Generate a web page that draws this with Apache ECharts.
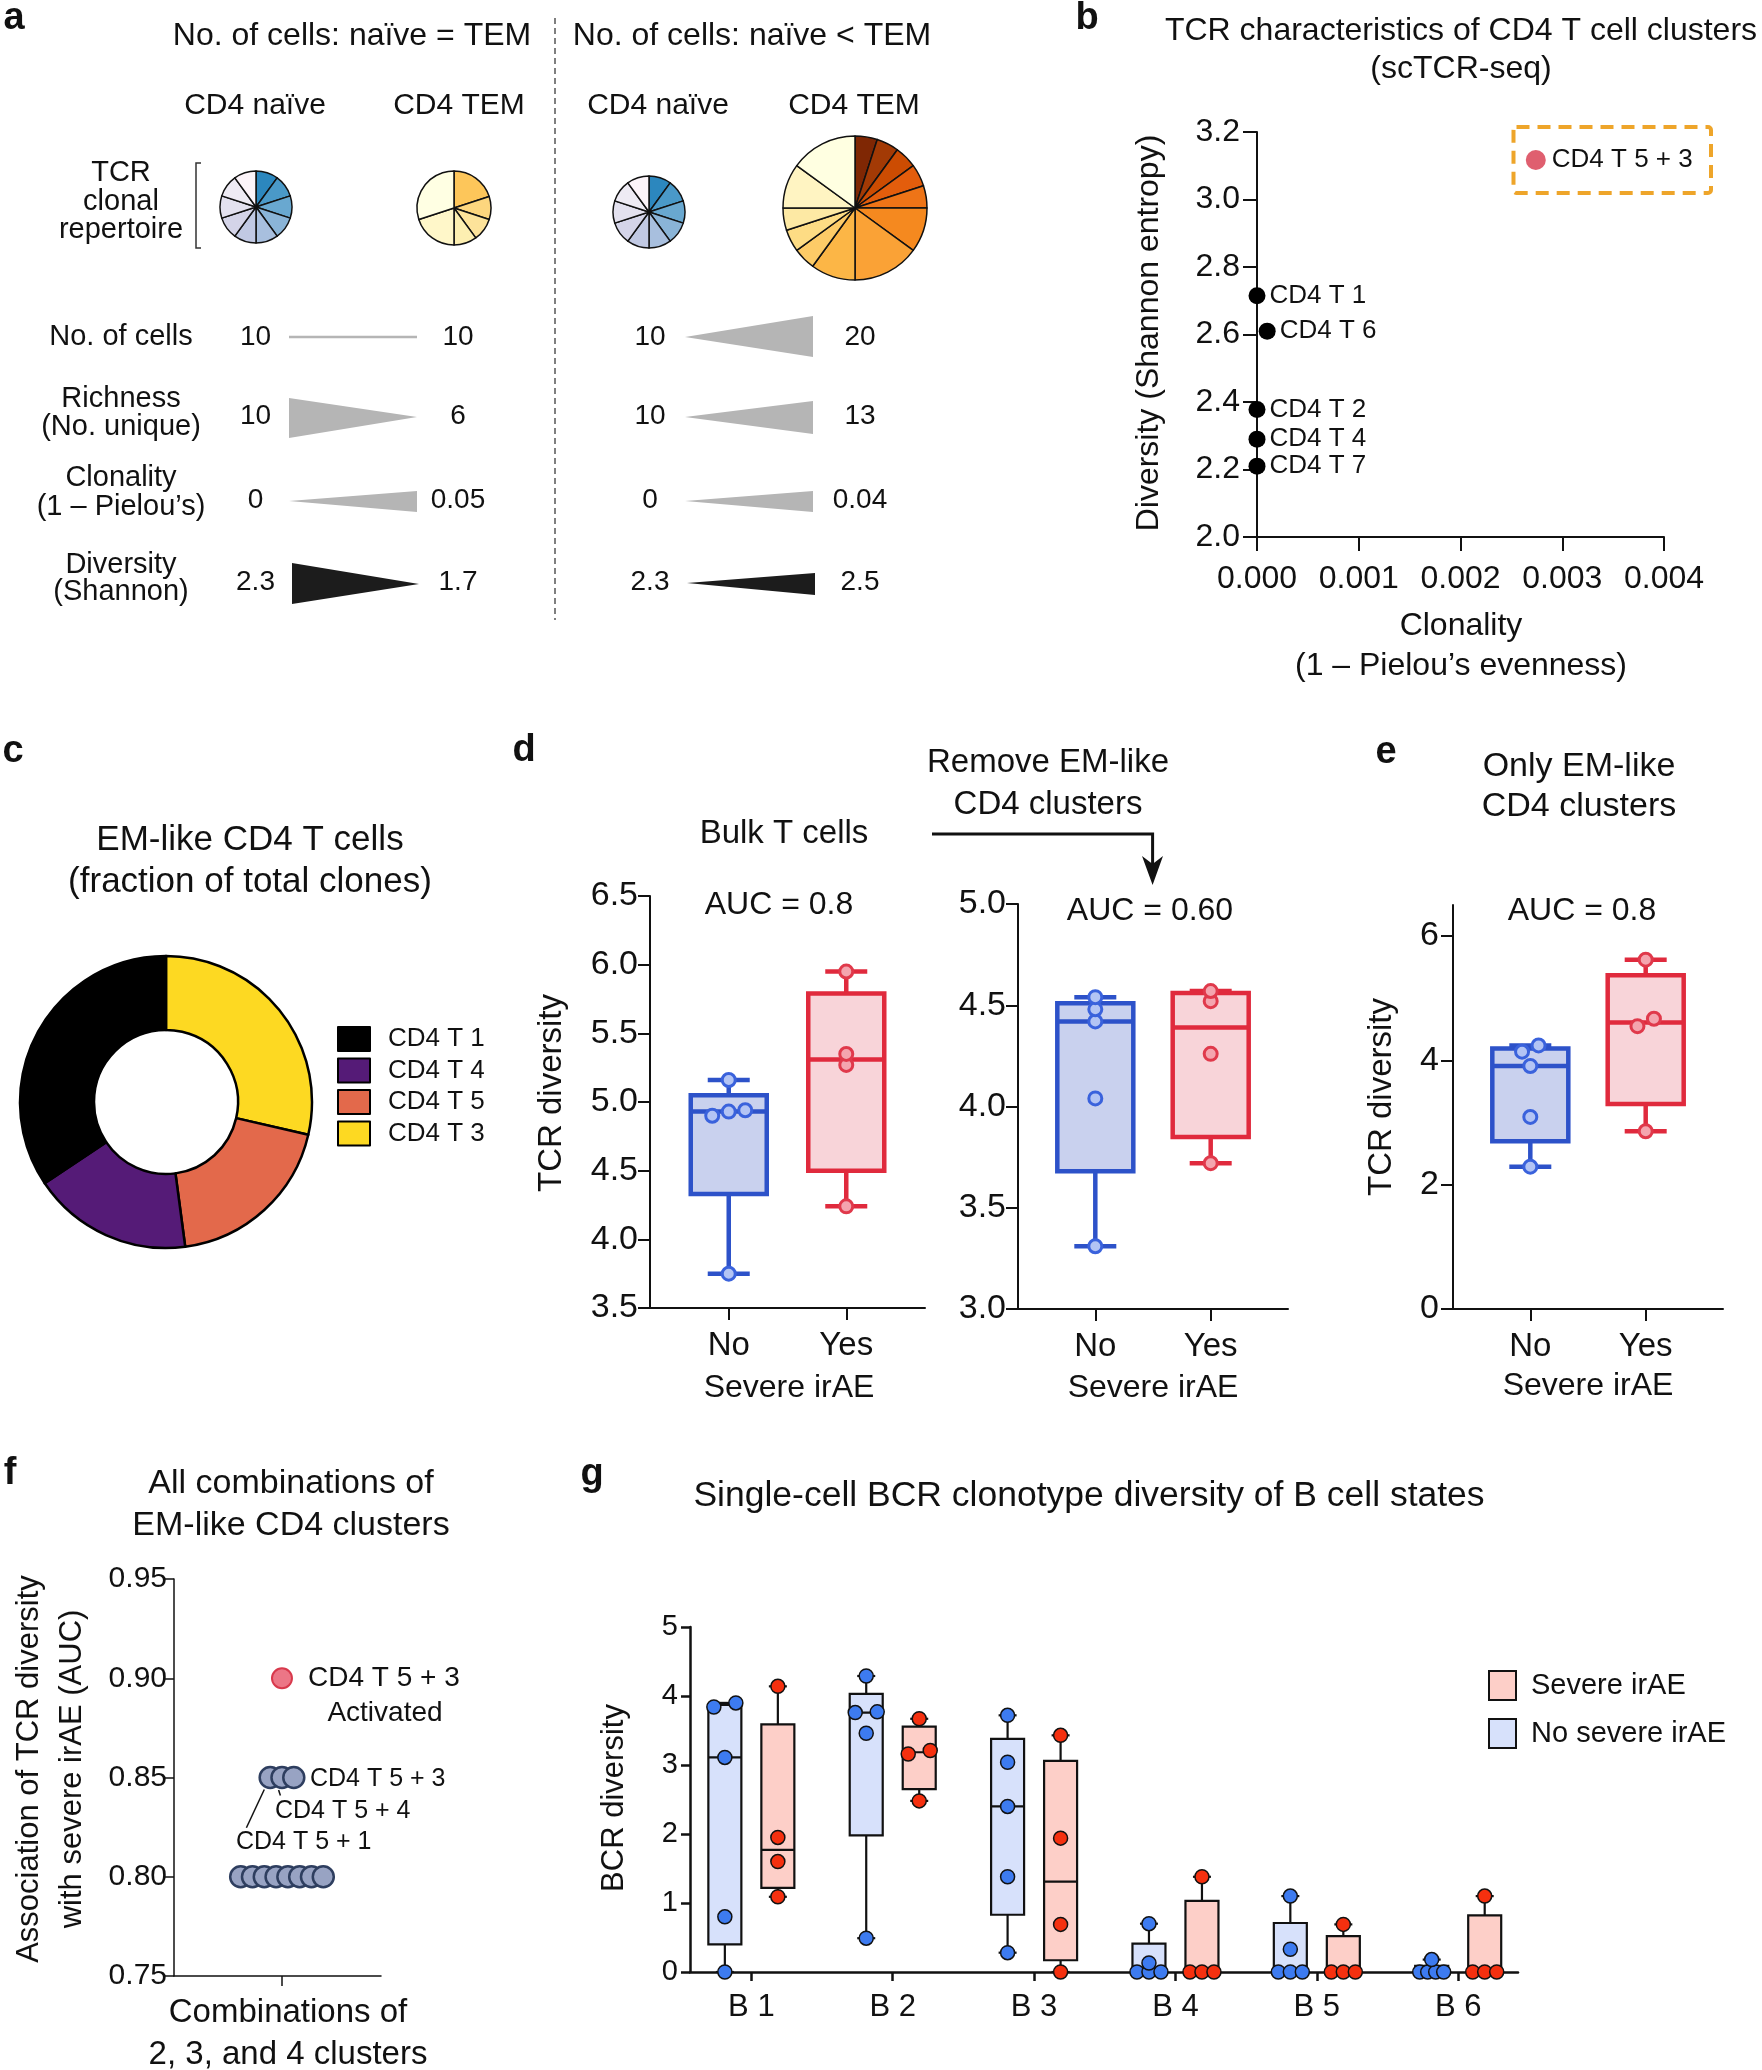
<!DOCTYPE html>
<html><head><meta charset="utf-8">
<script src="https://cdn.jsdelivr.net/npm/echarts@6/dist/echarts.min.js"></script>
<style>html,body{margin:0;padding:0;background:#fff}#c{width:1762px;height:2070px}</style>
</head><body><div id="c"></div>
<script>
// ---------------- DATA ----------------
// Panel a: clone sizes (cells per unique clone) in each schematic repertoire
const aPieNaive = [1,1,1,1,1,1,1,1,1,1];
const aPieTemEq = [2,1,1,1,2,3];
const aPieTemGt = [1,1,1,1,1,2,3,2,1,1,1,2,3];
const aRowLabels = [['No. of cells'],['Richness','(No. unique)'],['Clonality','(1 – Pielou’s)'],['Diversity','(Shannon)']];
const aEqNaive = ['10','10','0','2.3'];
const aEqTem   = ['10','6','0.05','1.7'];
const aLtNaive = ['10','10','0','2.3'];
const aLtTem   = ['20','13','0.04','2.5'];

// Panel b
const bNames = ['CD4 T 1','CD4 T 6','CD4 T 2','CD4 T 4','CD4 T 7'];
const bClonality = [0, 0.0001, 0, 0, 0];
const bDiversity = [2.715, 2.61, 2.378, 2.29, 2.21];
const bHiName = 'CD4 T 5 + 3';
const bHiClonality = 0.00274;
const bHiDiversity = 3.117;

// Panel c
const cNames = ['CD4 T 3','CD4 T 5','CD4 T 4','CD4 T 1'];
const cValues = [28.6, 19.3, 17.7, 34.4];
const cLegend = ['CD4 T 1','CD4 T 4','CD4 T 5','CD4 T 3'];

// Panels d, e : box stats [min, Q1, median, Q3, max] and points, for No / Yes
const irCats = ['No','Yes'];
const dBulkBox = [[3.75,4.33,4.93,5.05,5.16],[4.24,4.50,5.31,5.79,5.95]];
const dBulkPts = [[3.75,4.94,4.90,4.93,5.16],[4.24,5.27,5.35,5.95]];
const dRemBox  = [[3.31,3.68,4.42,4.51,4.54],[3.72,3.85,4.39,4.56,4.57]];
const dRemPts  = [[3.31,4.04,4.42,4.48,4.54],[3.72,4.26,4.52,4.57]];
const eBox     = [[2.29,2.70,3.91,4.19,4.24],[2.86,3.30,4.61,5.37,5.62]];
const ePts     = [[2.29,3.09,3.91,4.24,4.14],[2.86,4.67,4.55,5.62]];
const aucBulk = '0.8', aucRem = '0.60', aucEm = '0.8';

// Panel f
const fActivated = [0.90];
const fCombos = [0.85,0.85,0.85,0.80,0.80,0.80,0.80,0.80,0.80,0.80,0.80];

// Panel g
const gCats = ['B 1','B 2','B 3','B 4','B 5','B 6'];
const gNoBox = [[0,0.40,3.11,3.87,3.90],[0.49,1.98,3.76,4.03,4.29],[0.28,0.83,2.40,3.38,3.72],[0,0,0,0.41,0.70],[0,0,0,0.71,1.10],[0,0,0,0.09,0.18]];
const gYesBox = [[1.09,1.22,1.77,3.59,4.14],[2.48,2.65,3.185,3.555,3.67],[0,0.17,1.31,3.06,3.43],[0,0,0,1.03,1.38],[0,0,0,0.52,0.69],[0,0,0,0.82,1.10]];
const gNoPts = [[0,0.80,3.11,3.90,3.84],[0.49,3.46,3.76,3.77,4.29],[0.28,1.38,2.40,3.04,3.72],[0,0,0,0.13,0.70],[0,0,0,0.33,1.10],[0,0,0,0,0.18]];
const gYesPts = [[1.09,1.60,1.95,4.14],[2.48,3.21,3.16,3.67],[0,0.69,1.94,3.43],[0,0,0,1.38],[0,0,0,0.69],[0,0,0,1.10]];

// ---------------- STYLE ----------------
const FONT = '"Liberation Sans", Arial, Helvetica, sans-serif';
const INK = '#111111';
const naiveColors = ['#2c87be','#4a99c8','#69a8d0','#8ab4d7','#a8bfde','#c1c9e3','#d4d4e8','#e3e1ef','#eeebf4','#fcf4f9'];
const temEqColors = ['#fdc65a','#fdd67e','#fde39a','#fdefb1','#fff7c9','#ffffe3'];
const temGtColors = ['#7f2704','#a33a05','#cc4c02','#e35d0c','#ee7417','#f5891f','#faa236','#fcb646','#fdcb67','#fddc84','#fde9a4','#fff4c2','#ffffe1'];
const cColors = {'CD4 T 1':'#000000','CD4 T 4':'#551b77','CD4 T 5':'#e3694b','CD4 T 3':'#fdd922'};
const blueStroke = '#2d52c9', blueFill = '#c9d1ee', bluePt = '#b3c4f4', bluePtB = '#3a62dc';
const redStroke = '#e02a3d', redFill = '#f8d4d9', redPt = '#f4a5af', redPtB = '#e0394b';

// ---------------- HELPERS ----------------
function T(x, y, text, size, o) {
  o = o || {};
  return {type:'text', x:x, y:y, rotation:o.rot||0, z:50, silent:true,
    style:{text:text, fontSize:size, fontFamily:FONT, fontWeight:o.bold?'bold':'normal', fill:o.color||INK,
      align:o.align||'center', verticalAlign:o.va||'middle', textAlign:o.align||'center', textVerticalAlign:o.va||'middle'}};
}
function L(x1,y1,x2,y2,o){ o=o||{}; return {type:'line', silent:true, z:40, shape:{x1,y1,x2,y2}, style:{stroke:o.color||INK, lineWidth:o.lw||2, lineDash:o.dash||null}}; }
function P(pts, fill){ return {type:'polygon', silent:true, z:40, shape:{points:pts}, style:{fill:fill}}; }

function swarm(values, pxPerUnit, thresh, spacingFn) {
  const idx = values.map((v,i)=>i).sort((a,b)=>values[a]-values[b]);
  const off = new Array(values.length).fill(0);
  let group = [idx[0]];
  const flush = () => { const k = group.length; const s = spacingFn(k); group.forEach((id,j)=>{ off[id] = (j-(k-1)/2)*s; }); };
  for (let j=1;j<idx.length;j++){
    if ((values[idx[j]] - values[group[group.length-1]])*pxPerUnit < thresh) group.push(idx[j]);
    else { flush(); group=[idx[j]]; }
  }
  flush();
  return off;
}

function boxSeries(name, xi, yi, rows, xs, cfg) {
  return {
    type:'custom', name:name, xAxisIndex:xi, yAxisIndex:yi, z:5, clip:false, silent:true,
    itemStyle:{color:cfg.fill, borderColor:cfg.stroke, borderWidth:2},
    encode:{x:0, y:[1,2,3,4,5]},
    data: rows.map((r,i)=>[xs[i]].concat(r)),
    renderItem: function(params, api) {
      const x = api.value(0);
      const c = v => api.coord([x, v]);
      const pMin=c(api.value(1)), pQ1=c(api.value(2)), pMed=c(api.value(3)), pQ3=c(api.value(4)), pMax=c(api.value(5));
      const cx = pMin[0] + cfg.offset, hw = cfg.boxW/2, cw = cfg.capW/2;
      const ls = {stroke:cfg.stroke, lineWidth:cfg.lw};
      const ch = [
        {type:'line', shape:{x1:cx,y1:pQ3[1],x2:cx,y2:pMax[1]}, style:ls},
        {type:'line', shape:{x1:cx,y1:pMin[1],x2:cx,y2:pQ1[1]}, style:ls},
        {type:'line', shape:{x1:cx-cw,y1:pMax[1],x2:cx+cw,y2:pMax[1]}, style:ls},
        {type:'line', shape:{x1:cx-cw,y1:pMin[1],x2:cx+cw,y2:pMin[1]}, style:ls},
        {type:'rect', shape:{x:cx-hw, y:pQ3[1], width:cfg.boxW, height:Math.max(0,pQ1[1]-pQ3[1])}, style:{fill:cfg.fill, stroke:cfg.stroke, lineWidth:cfg.lw}},
        {type:'line', shape:{x1:cx-hw,y1:pMed[1],x2:cx+hw,y2:pMed[1]}, style:ls}
      ];
      return {type:'group', children:ch};
    }
  };
}

function pointSeries(xi, yi, groups, xs, pxPerUnit, thresh, spacingFn, offset, st) {
  const data = [];
  groups.forEach((vals, gi) => {
    const off = swarm(vals, pxPerUnit, thresh, spacingFn);
    vals.forEach((v, i) => data.push({value:[xs[gi], v], symbolOffset:[off[i] + offset, 0]}));
  });
  return {type:'scatter', xAxisIndex:xi, yAxisIndex:yi, z:10, silent:true, symbol:'circle', symbolSize:st.size,
    itemStyle:{color:st.fill, borderColor:st.border, borderWidth:st.bw, opacity:1}, data:data};
}

function xAx(gi, o) {
  return {type:'value', gridIndex:gi, min:o.min, max:o.max, interval:o.interval,
    axisLine:{show:true, onZero:false, lineStyle:{color:INK, width:o.lw||2}},
    axisTick:{show:true, length:o.tl||12, lineStyle:{color:INK, width:o.lw||2}, customValues:o.custom},
    axisLabel:{show:o.label!==false, color:INK, fontSize:o.fs||30, fontFamily:FONT, margin:o.margin||10, formatter:o.fmt, customValues:o.custom, showMinLabel:true, showMaxLabel:true},
    splitLine:{show:false}};
}
const yAx = xAx;

const yesNoFmt = v => (Math.abs(v-1)<1e-6 ? irCats[0] : (Math.abs(v-2)<1e-6 ? irCats[1] : ''));

// ---------------- GRAPHICS (annotations / schematic) ----------------
const G = [];
// panel letters
G.push(T(14, 19, 'a', 38, {bold:true}));
G.push(T(1087, 19, 'b', 38, {bold:true}));
G.push(T(13, 752, 'c', 38, {bold:true}));
G.push(T(524, 751, 'd', 38, {bold:true}));
G.push(T(1386, 753, 'e', 38, {bold:true}));
G.push(T(10, 1474, 'f', 38, {bold:true}));
G.push(T(592, 1475, 'g', 38, {bold:true}));

// panel a
G.push(T(352, 36, 'No. of cells: naïve = TEM', 32));
G.push(T(752, 36, 'No. of cells: naïve < TEM', 32));
G.push(T(255, 106, 'CD4 naïve', 30)); G.push(T(459, 106, 'CD4 TEM', 30));
G.push(T(658, 106, 'CD4 naïve', 30)); G.push(T(854, 106, 'CD4 TEM', 30));
G.push(T(121, 173, 'TCR', 29)); G.push(T(121, 202, 'clonal', 29)); G.push(T(121, 230, 'repertoire', 29));
G.push({type:'polyline', silent:true, shape:{points:[[201,163],[196,163],[196,248],[201,248]]}, style:{stroke:'#333', lineWidth:1.5, fill:null}});
G.push(L(555, 18, 555, 620, {color:'#555', lw:1.5, dash:[6,4]}));
const rowY = [[337],[399,427],[478,507],[565,592]];
const valY = [337, 416, 500, 582];
aRowLabels.forEach((lines, i) => lines.forEach((t, j) => G.push(T(121, rowY[i][j], t, 29))));
valY.forEach((y, i) => {
  G.push(T(255.5, y, aEqNaive[i], 28)); G.push(T(458, y, aEqTem[i], 28));
  G.push(T(650, y, aLtNaive[i], 28)); G.push(T(860, y, aLtTem[i], 28));
});
const GRAY = '#b5b5b5', DARK = '#1c1c1c';
G.push(L(289, 337, 417, 337, {color:GRAY, lw:2.5}));
G.push(P([[289,398],[289,438],[417,417]], GRAY));
G.push(P([[289,501],[417,491],[417,512]], GRAY));
G.push(P([[292,563],[292,604],[419,584]], DARK));
G.push(P([[685,337],[813,316],[813,357]], GRAY));
G.push(P([[685,417],[813,401],[813,434]], GRAY));
G.push(P([[685,501],[813,491],[813,512]], GRAY));
G.push(P([[687,583],[815,573],[815,595]], DARK));

// panel b
G.push(T(1461, 31, 'TCR characteristics of CD4 T cell clusters', 32));
G.push(T(1461, 69, '(scTCR-seq)', 32));
G.push(T(1149, 333, 'Diversity (Shannon entropy)', 32, {rot:Math.PI/2}));
G.push(T(1461, 626, 'Clonality', 32));
G.push(T(1461, 666, '(1 – Pielou’s evenness)', 32));
G.push({type:'rect', silent:true, z:40, shape:{x:1513.5, y:127, width:197.5, height:66, r:3}, style:{fill:null, stroke:'#eea52a', lineWidth:4, lineDash:[13,8]}});

// panel c
G.push(T(250, 840, 'EM-like CD4 T cells', 35));
G.push(T(250, 882, '(fraction of total clones)', 35));

// panel d
G.push(T(784, 834, 'Bulk T cells', 33));
G.push(T(1048, 763, 'Remove EM-like', 33));
G.push(T(1048, 805, 'CD4 clusters', 33));
G.push({type:'polyline', silent:true, shape:{points:[[932,834],[1152.6,834],[1152.6,866]]}, style:{stroke:INK, lineWidth:3, fill:null}});
G.push(P([[1142,856],[1152.6,885],[1163,856],[1152.6,864]], INK));
G.push(T(779, 905, 'AUC = ' + aucBulk, 32));
G.push(T(1150, 911, 'AUC = ' + aucRem, 32));
G.push(T(552, 1093, 'TCR diversity', 33, {rot:Math.PI/2}));
G.push(T(789, 1388, 'Severe irAE', 32));
G.push(T(1153, 1388, 'Severe irAE', 32));

// panel e
G.push(T(1579, 767, 'Only EM-like', 34));
G.push(T(1579, 807, 'CD4 clusters', 34));
G.push(T(1582, 911, 'AUC = ' + aucEm, 32));
G.push(T(1382, 1097, 'TCR diversity', 33, {rot:Math.PI/2}));
G.push(T(1588, 1386, 'Severe irAE', 32));

// panel f
G.push(T(291, 1484, 'All combinations of', 34));
G.push(T(291, 1526, 'EM-like CD4 clusters', 34));
G.push(T(29, 1769, 'Association of TCR diversity', 31, {rot:Math.PI/2}));
G.push(T(72, 1769, 'with severe irAE (AUC)', 31, {rot:Math.PI/2}));
G.push(T(288, 2013, 'Combinations of', 33));
G.push(T(288, 2055, '2, 3, and 4 clusters', 33));
G.push(T(308, 1678, 'CD4 T 5 + 3', 28, {align:'left'}));
G.push(T(385, 1713, 'Activated', 28));
G.push(T(310, 1779, 'CD4 T 5 + 3', 25, {align:'left'}));
G.push(T(275, 1811, 'CD4 T 5 + 4', 25, {align:'left'}));
G.push(T(236, 1842, 'CD4 T 5 + 1', 25, {align:'left'}));
G.push(L(264.3, 1789.5, 246.4, 1827.7, {lw:1.5}));
G.push(L(278.6, 1790, 280.4, 1795.6, {lw:1.5}));

// panel g
G.push(T(1089, 1496, 'Single-cell BCR clonotype diversity of B cell states', 35.5));
G.push(T(614, 1798, 'BCR diversity', 31, {rot:Math.PI/2}));

// ---------------- SERIES ----------------
const series = [];
function aPie(center, r, vals, colors, tag) {
  return {type:'pie', center:center, radius:r, startAngle:90, clockwise:true, silent:true, z:3,
    label:{show:false}, labelLine:{show:false}, itemStyle:{borderColor:'#111', borderWidth:1.5},
    data: vals.map((v,i)=>({name:tag+i, value:v, itemStyle:{color:colors[i]}}))};
}
series.push(aPie([256,207], 36, aPieNaive, naiveColors, 'n1_'));
series.push(aPie([454,208], 37, aPieTemEq, temEqColors, 't1_'));
series.push(aPie([649,212], 36, aPieNaive, naiveColors, 'n2_'));
series.push(aPie([855,208], 72, aPieTemGt, temGtColors, 't2_'));

// panel c donut
series.push({type:'pie', center:[166,1102], radius:[72,146], startAngle:90, clockwise:true, silent:true,
  label:{show:false}, labelLine:{show:false}, itemStyle:{borderColor:'#000', borderWidth:2.5},
  data: cNames.map((n,i)=>({name:n, value:cValues[i], itemStyle:{color:cColors[n]}}))});

// panel b scatter
series.push({type:'scatter', xAxisIndex:0, yAxisIndex:0, symbolSize:17, silent:true, z:10,
  itemStyle:{color:'#000', opacity:1},
  label:{show:true, position:'right', distance:4, formatter:'{b}', fontSize:26, fontFamily:FONT, color:INK, opacity:1},
  data: bNames.map((n,i)=>({name:n, value:[bClonality[i], bDiversity[i]]}))});
series.push({type:'scatter', xAxisIndex:0, yAxisIndex:0, symbolSize:20, silent:true, z:10,
  itemStyle:{color:'#df5f6f', opacity:1},
  label:{show:true, position:'right', distance:6, formatter:'{b}', fontSize:26, fontFamily:FONT, color:INK, opacity:1},
  data:[{name:bHiName, value:[bHiClonality, bHiDiversity]}]});

// panels d / e boxes
const dCfgB = {offset:0, boxW:76, capW:42, lw:4.5, stroke:blueStroke, fill:blueFill};
const dCfgR = {offset:0, boxW:76, capW:42, lw:4.5, stroke:redStroke, fill:redFill};
const dPanels = [[1, dBulkBox, dBulkPts, 412/3], [2, dRemBox, dRemPts, 405/2], [3, eBox, ePts, 404/6.5]];
const ptB = {size:13, fill:bluePt, border:bluePtB, bw:3};
const ptR = {size:13, fill:redPt, border:redPtB, bw:3};
dPanels.forEach(([ax, box, pts, ppu]) => {
  series.push(boxSeries('d'+ax+'No', ax, ax, [box[0]], [1], dCfgB));
  series.push(boxSeries('d'+ax+'Yes', ax, ax, [box[1]], [2], dCfgR));
  series.push(pointSeries(ax, ax, [pts[0]], [1], ppu, 10, k=>16.5, 0, ptB));
  series.push(pointSeries(ax, ax, [pts[1]], [2], ppu, 10, k=>16.5, 0, ptR));
});

// panel f
series.push(pointSeries(4, 4, [fCombos], [1], 397/0.2, 5, k=>11.8, 0, {size:21, fill:'#98a3c3', border:'#2e3e5f', bw:2.5}));
series.push(pointSeries(4, 4, [fActivated], [1], 397/0.2, 5, k=>11.8, 0, {size:20, fill:'#ec7686', border:'#d8394c', bw:2}));

// panel g
const gX = gCats.map((c,i)=>i+1);
const gCfgNo = {offset:-26.5, boxW:33, capW:18, lw:2.2, stroke:'#111', fill:'#d7e1fb'};
const gCfgYes = {offset:26.5, boxW:33, capW:18, lw:2.2, stroke:'#111', fill:'#fdcfc8'};
series.push(boxSeries('Severe irAE', 5, 5, gYesBox, gX, gCfgYes));
series.push(boxSeries('No severe irAE', 5, 5, gNoBox, gX, gCfgNo));
const gSp = k => Math.min(22, 24/(k-1||1));
series.push(pointSeries(5, 5, gNoPts, gX, 345/5, 8, gSp, -26.5, {size:14, fill:'#3d7bf0', border:'#111', bw:1.5}));
series.push(pointSeries(5, 5, gYesPts, gX, 345/5, 8, gSp, 26.5, {size:14, fill:'#f5300f', border:'#111', bw:1.5}));

// ---------------- OPTION ----------------
const option = {
  animation:false,
  backgroundColor:'#ffffff',
  textStyle:{fontFamily:FONT},
  grid:[
    {left:1257, top:132, width:407, height:405},
    {left:650, top:896, width:275, height:412},
    {left:1018, top:904, width:270, height:405},
    {left:1453, top:905, width:270, height:404},
    {left:174, top:1579, width:207, height:397},
    {left:690, top:1627, width:828, height:345}
  ],
  xAxis:[
    xAx(0, {min:0, max:0.004, interval:0.001, tl:14, fs:32, margin:26, fmt:v=>v.toFixed(3)}),
    xAx(1, {min:0.33, max:2.67, custom:[1,2], tl:12, fs:33, margin:21, fmt:yesNoFmt}),
    xAx(2, {min:0.33, max:2.67, custom:[1,2], tl:12, fs:33, margin:21, fmt:yesNoFmt}),
    xAx(3, {min:0.33, max:2.67, custom:[1,2], tl:12, fs:33, margin:21, fmt:yesNoFmt}),
    xAx(4, {min:0, max:1.917, custom:[1], tl:10, label:false, lw:1.5}),
    xAx(5, {min:0.566, max:6.423, custom:gX, tl:9, fs:31, margin:20, lw:2.5, fmt:v=>gCats[Math.round(v)-1]||''})
  ],
  yAxis:[
    yAx(0, {min:2, max:3.2, interval:0.2, tl:14, fs:32, margin:17, fmt:v=>v.toFixed(1)}),
    yAx(1, {min:3.5, max:6.5, interval:0.5, tl:12, fs:34, margin:12, fmt:v=>v.toFixed(1)}),
    yAx(2, {min:3, max:5, interval:0.5, tl:12, fs:34, margin:12, fmt:v=>v.toFixed(1)}),
    yAx(3, {min:0, max:6.5, custom:[0,2,4,6], tl:12, fs:34, margin:14, fmt:v=>String(v)}),
    yAx(4, {min:0.75, max:0.95, interval:0.05, tl:10, fs:30, margin:7, lw:1.5, fmt:v=>v.toFixed(2)}),
    yAx(5, {min:0, max:5, interval:1, tl:9, fs:29, margin:12, lw:2.5, fmt:v=>String(Math.round(v))})
  ],
  legend:[
    {data:cLegend, orient:'vertical', left:337, top:1026, padding:0, itemWidth:32, itemHeight:24, itemGap:5.5,
      icon:'rect', selectedMode:false, itemStyle:{borderColor:'#000', borderWidth:2},
      textStyle:{fontSize:26, fontFamily:FONT, color:INK, padding:[0,0,0,13]}},
    {data:['Severe irAE','No severe irAE'], orient:'vertical', left:1488, top:1670, padding:0, itemWidth:27, itemHeight:29, itemGap:17,
      icon:'rect', selectedMode:false, itemStyle:{borderColor:'#111', borderWidth:2},
      textStyle:{fontSize:29, fontFamily:FONT, color:INK, padding:[0,0,0,10]}}
  ],
  graphic:{elements:G},
  series:series
};
const chart = echarts.init(document.getElementById('c'), null, {renderer:'canvas', width:1762, height:2070});
chart.setOption(option);
</script>
</body></html>
